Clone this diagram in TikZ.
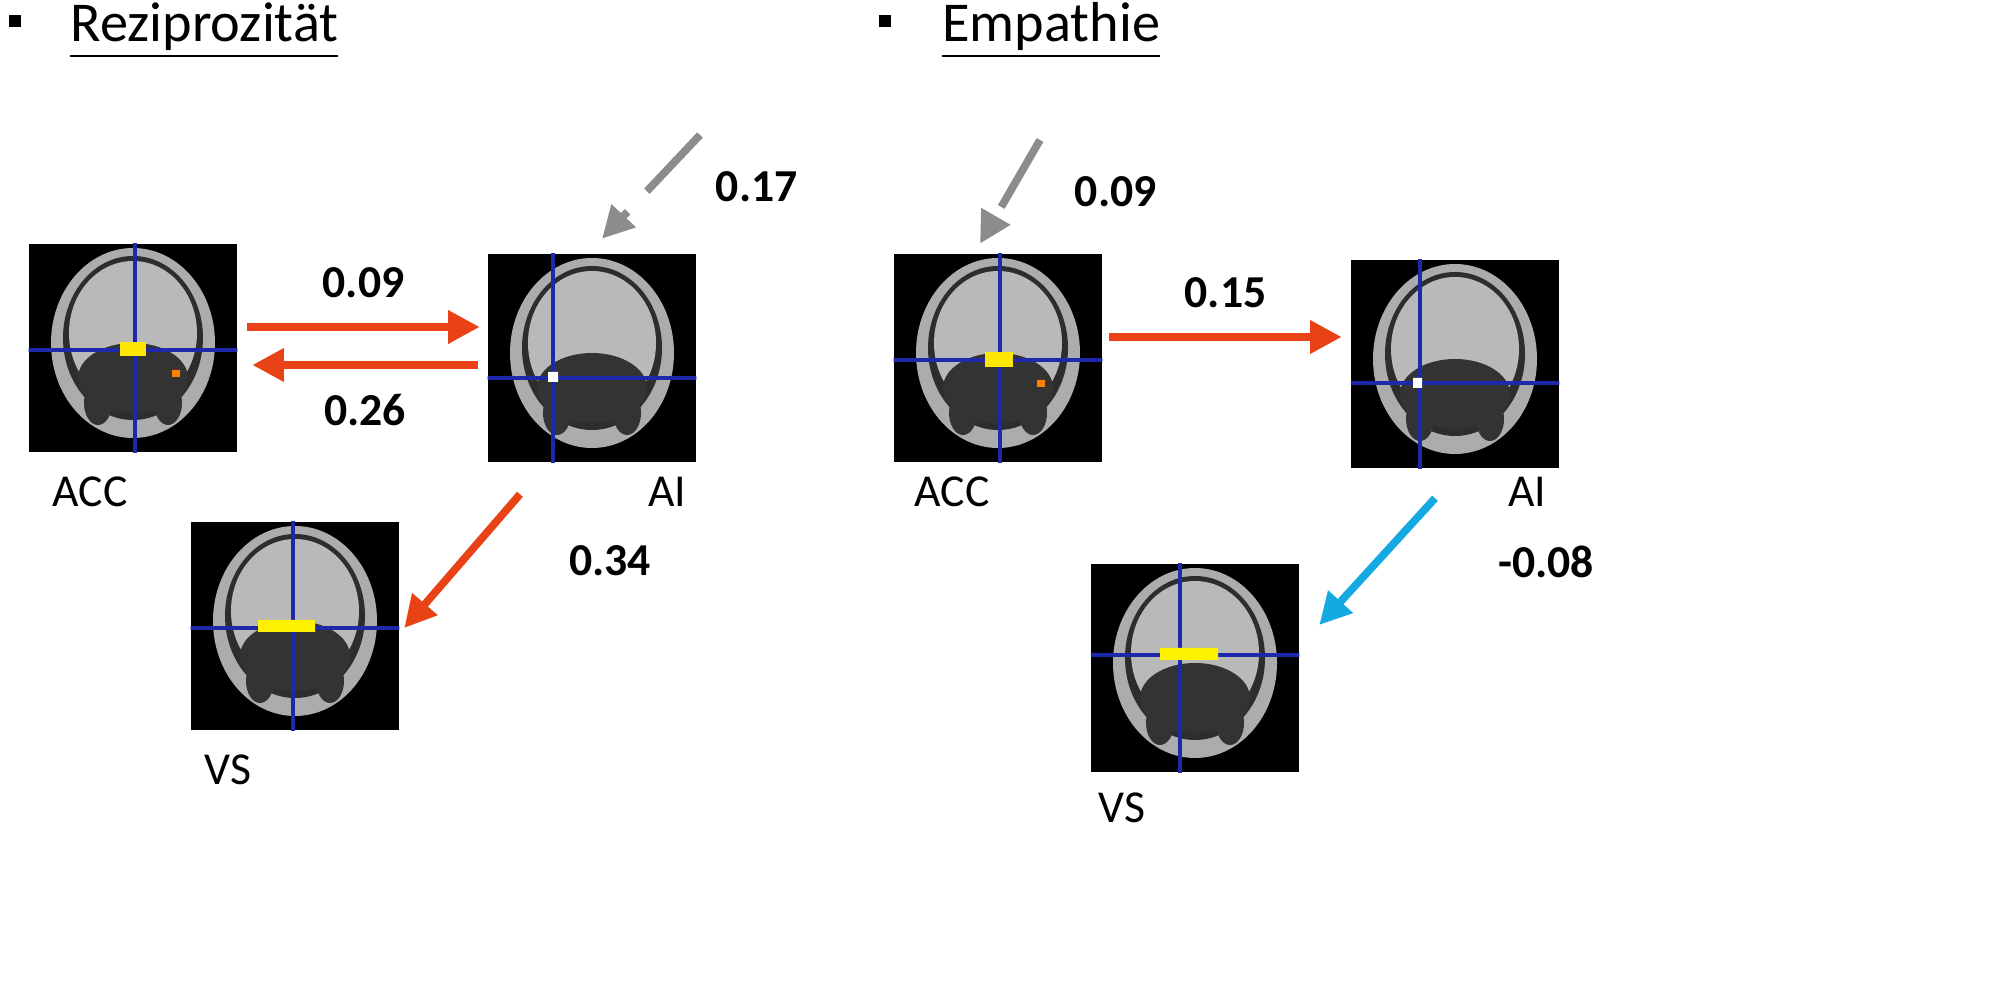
\documentclass[tikz,border=0pt]{standalone}
\usepackage{fontspec}
\setmainfont{Carlito}
\usetikzlibrary{arrows.meta,positioning}
\definecolor{arrred}{RGB}{232,66,22}
\definecolor{arrblue}{RGB}{20,170,225}
\definecolor{arrgrey}{RGB}{140,140,140}
\definecolor{crossblue}{RGB}{30,40,170}
% brain slice: name, centre x, centre y, cross x, cross y
\newcommand\brainimg[5]{%
  \node[slice] (#1) at (#2,#3) {};
  \begin{scope}
    \clip (#1.south west) rectangle (#1.north east);
    \fill[gray!65] (#2,#3-5) ellipse (82 and 95);
    \fill[gray!35!black] (#2,#3-10) ellipse (70 and 82);
    \fill[gray!55] (#2,#3-15) ellipse (64 and 72);
    \fill[gray!40!black] (#2,#3+30) ellipse (55 and 35);
    \fill[black!80] (#2-35,#3+55) ellipse (14 and 22);
    \fill[black!80] (#2+35,#3+55) ellipse (14 and 22);
    \draw[crossblue, line width=1pt] (#4,#3-105) -- (#4,#3+105)
      (#2-105,#5) -- (#2+105,#5);
  \end{scope}}
\tikzset{
slice/.style = {fill=black, minimum size=2.07cm, inner sep=0pt},
val/.style = {font=\bfseries\fontsize{13}{15}\selectfont},
lbl/.style = {font=\fontsize{13}{15}\selectfont},
conn/.style = {line width=2.2pt, -{Triangle[length=9pt,width=9pt]}},
title/.style = {anchor=base west, font=\fontsize{16}{19}\selectfont},
}
\begin{document}
\begin{tikzpicture}[x=0.01cm, y=-0.01cm]
%
\fill (9,15) rectangle (21,27);
\node[title] (tl) at (58,42) {\underline{Reziprozität}};
\fill (879,15) rectangle (891,27);
\node[title] (tr) at (930,42) {\underline{Empathie}};
%
\brainimg{accL}{133}{348}{135}{350}
\brainimg{aiL}{592}{358}{553}{378}
\brainimg{vsL}{295}{626}{293}{628}
\brainimg{accR}{998}{358}{1000}{360}
\brainimg{aiR}{1455}{364}{1420}{383}
\brainimg{vsR}{1195}{668}{1180}{655}
\fill[yellow!90!orange] (120,342) rectangle (146,356);
\fill[yellow!90!orange] (985,352) rectangle (1013,367);
\fill[orange] (172,370) rectangle (180,377) (1037,380) rectangle (1045,387);
\fill[yellow] (258,620) rectangle (315,632) (1160,648) rectangle (1218,660);
\fill[white] (548,372) rectangle (558,382) (1413,378) rectangle (1422,388);
%
\node[lbl] (accLl) at (90,492) {ACC};
\node[lbl] (aiLl) at (667,492) {AI};
\node[lbl] (vsLl) at (228,770) {VS};
\node[lbl] (accRl) at (952,492) {ACC};
\node[lbl] (aiRl) at (1527,492) {AI};
\node[lbl] (vsRl) at (1122,808) {VS};
%
\coordinate (inL) at (700,135);
\coordinate (inR) at (1040,140);
\draw[conn, arrred] ([shift={(10,-21)}]accL.east) -- node[val, black, above=4pt] {0.09} ([shift={(-8,-31)}]aiL.west);
\draw[conn, arrred] ([shift={(-10,7)}]aiL.west) -- node[val, black, below=4pt] {0.26} ([shift={(15,17)}]accL.east);
\draw[conn, arrgrey, dash pattern=on 22pt off 8pt] (inL) -- node[val, black, right=14pt] {0.17} ([shift={(10,-15)}]aiL.north);
\draw[conn, arrred] ([shift={(-72,32)}]aiL.south) -- node[val, black, right=26pt] {0.34} ([shift={(5,2)}]vsL.east);
%
\draw[conn, arrgrey, dash pattern=on 22pt off 8pt] (inR) -- node[val, black, right=14pt] {0.09} ([shift={(-18,-10)}]accR.north);
\draw[conn, arrred] ([shift={(7,-21)}]accR.east) -- node[val, black, above=4pt] {0.15} ([shift={(-9,-27)}]aiR.west);
\draw[conn, arrblue] ([shift={(-20,30)}]aiR.south) -- node[val, black, right=30pt] {-0.08} ([shift={(20,-43)}]vsR.east);
%
\pgfresetboundingbox
\path[use as bounding box] (0,0) rectangle (2009,989);
\end{tikzpicture}
\end{document}
